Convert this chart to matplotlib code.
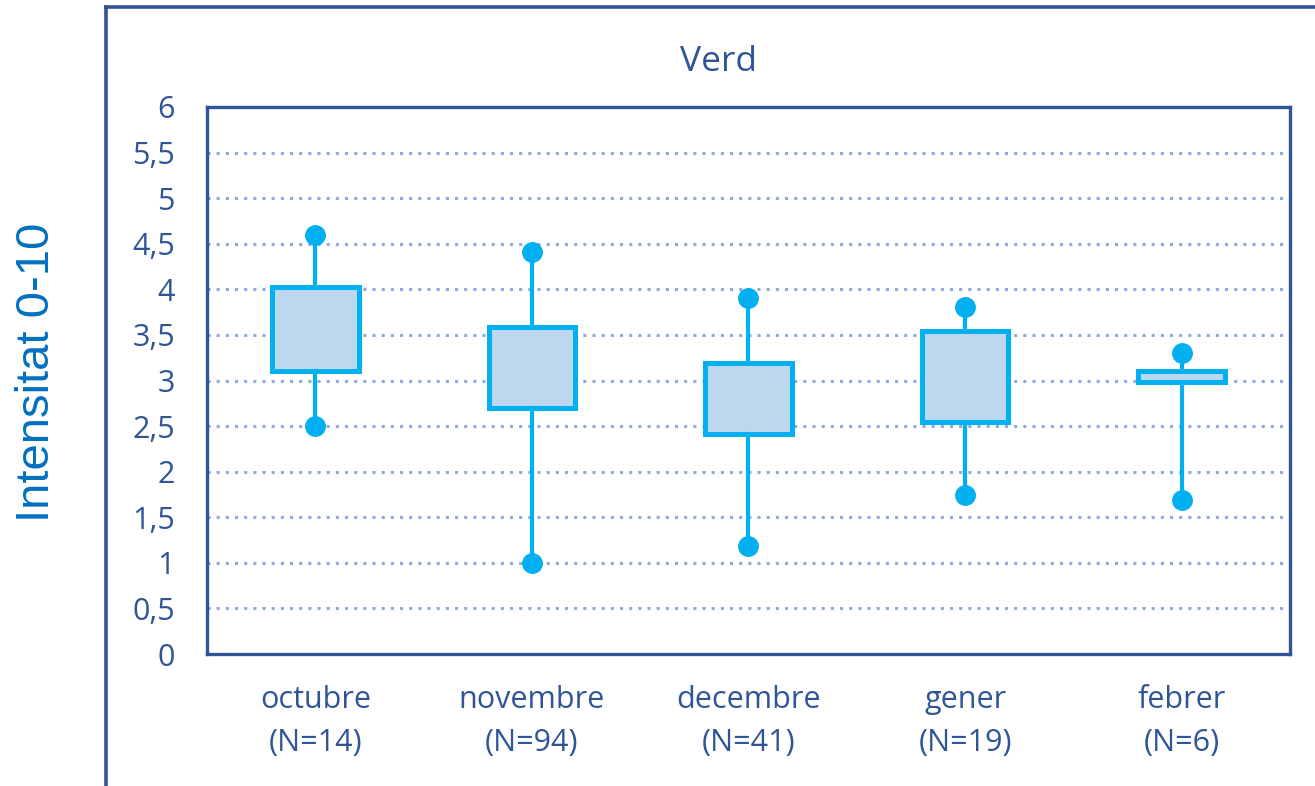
import matplotlib.pyplot as plt
from matplotlib.lines import Line2D

# monthly intensity summaries for the "Verd" item
months = ["octubre", "novembre", "decembre", "gener", "febrer"]
n_counts = [14, 94, 41, 19, 6]
q1 = [3.10, 2.70, 2.41, 2.55, 2.98]
q3 = [4.03, 3.59, 3.19, 3.545, 3.10]
whisker_low = [2.50, 1.00, 1.19, 1.74, 1.69]
whisker_high = [4.60, 4.41, 3.90, 3.81, 3.30]
y_ticks = [0, 0.5, 1, 1.5, 2, 2.5, 3, 3.5, 4, 4.5, 5, 5.5, 6]

dark_blue = "#2F5597"
cyan = "#00B0F0"
fill = "#BDD7EE"

plt.rcParams['font.family'] = ['Open Sans', 'DejaVu Sans']

fig = plt.figure(figsize=(13.15, 7.86), dpi=100)
ax = fig.add_axes([0.1574, 0.1679, 0.8236, 0.696])

stats = []
for i, m in enumerate(months):
    stats.append({
        "label": f"{m}\n(N={n_counts[i]})",
        "q1": q1[i], "q3": q3[i], "med": q1[i],
        "whislo": whisker_low[i], "whishi": whisker_high[i],
        "fliers": [],
    })

pos = list(range(len(months)))
ax.bxp(stats, positions=pos, widths=0.4, patch_artist=True,
       showcaps=False, showfliers=False,
       boxprops=dict(facecolor=fill, edgecolor=cyan, linewidth=3.6),
       whiskerprops=dict(color=cyan, linewidth=3.0),
       medianprops=dict(visible=False), zorder=3)

# end points of the whiskers
ax.plot(pos, whisker_high, 'o', color=cyan, markersize=14, zorder=4)
ax.plot(pos, whisker_low, 'o', color=cyan, markersize=14, zorder=4)

ax.set_xlim(-0.5, len(months) - 0.5)
ax.set_ylim(0, 6)
ax.set_yticks(y_ticks)
ax.set_yticklabels([f"{v:g}".replace(".", ",") for v in y_ticks])
ax.yaxis.grid(True, linestyle=(0, (1, 2)), color="#8FAADC", linewidth=2.2)
ax.set_axisbelow(True)
ax.tick_params(axis='both', length=0, colors=dark_blue, labelsize=22)
ax.tick_params(axis='y', pad=23)
ax.tick_params(axis='x', pad=22)
for lbl in ax.get_xticklabels():
    lbl.set_linespacing(1.6)
for s in ax.spines.values():
    s.set_color(dark_blue)
    s.set_linewidth(2.4)

fig.text(718 / 1315, 1 - 62 / 786, "Verd", color=dark_blue, fontsize=25.5,
         ha='center', va='center')
fig.text(37 / 1315, 1 - 372 / 786, "Intensitat 0-10", color="#0070C0",
         fontsize=34, family=['Liberation Sans', 'DejaVu Sans'],
         rotation=90, ha='center', va='center')

# outer chart frame, cut off on the right and bottom
fig.add_artist(Line2D([106 / 1315, 106 / 1315], [0, 1 - 7 / 786],
                      color=dark_blue, linewidth=2.6))
fig.add_artist(Line2D([106 / 1315, 1], [1 - 7 / 786, 1 - 7 / 786],
                      color=dark_blue, linewidth=2.6))

fig.savefig("out.png", dpi=100)
